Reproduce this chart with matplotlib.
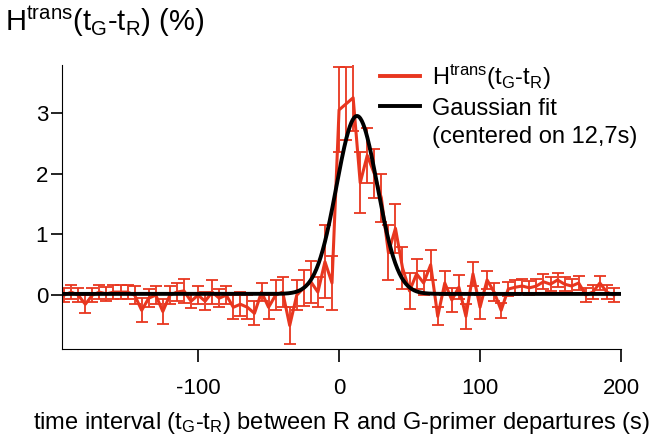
import numpy as np
import matplotlib
matplotlib.use("Agg")
from matplotlib import pyplot as plt
from matplotlib.lines import Line2D

plt.rcParams['font.family'] = ['Liberation Sans', 'DejaVu Sans']
plt.rcParams['mathtext.fontset'] = 'custom'
plt.rcParams['mathtext.rm'] = 'Liberation Sans'
plt.rcParams['mathtext.it'] = 'Liberation Sans:italic'
plt.rcParams['axes.unicode_minus'] = False

# histogram of time intervals, 5 s bins
t = np.arange(-195, 200, 5)
h = [0.0, 0.05, 0.0, -0.15, 0.0, 0.05, 0.02, 0.05, 0.05, 0.05,
     0.0, -0.25, -0.05, 0.0, -0.27, 0.0, 0.05, 0.07, -0.1, 0.0,
     -0.1, 0.05, -0.05, 0.0, -0.2, -0.15, -0.2, -0.3, 0.05, -0.2,
     0.0, 0.05, -0.5, 0.0, 0.12, 0.22, 0.05, 0.55, 0.2, 3.05,
     3.15, 3.25, 1.85, 2.3, 2.0, 1.6, 0.7, 1.1, 0.45, 0.07,
     0.35, 0.2, 0.5, -0.35, 0.2, -0.08, 0.13, -0.35, 0.35, -0.2,
     0.25, 0.05, -0.25, 0.1, 0.13, 0.15, 0.12, 0.15, 0.22, 0.18,
     0.25, 0.18, 0.15, 0.2, 0.0, 0.05, 0.2, 0.05, 0.0]
h_err = [0.12, 0.12, 0.12, 0.15, 0.12, 0.12, 0.12, 0.12, 0.12, 0.12,
         0.15, 0.2, 0.15, 0.15, 0.2, 0.15, 0.15, 0.2, 0.12, 0.15,
         0.15, 0.2, 0.15, 0.15, 0.2, 0.2, 0.2, 0.2, 0.15, 0.2,
         0.25, 0.25, 0.3, 0.25, 0.3, 0.35, 0.25, 0.6, 0.45, 0.7,
         0.6, 0.55, 0.5, 0.45, 0.4, 0.4, 0.45, 0.4, 0.35, 0.3,
         0.25, 0.2, 0.25, 0.15, 0.2, 0.2, 0.2, 0.2, 0.2, 0.2,
         0.15, 0.15, 0.12, 0.12, 0.12, 0.12, 0.12, 0.12, 0.12, 0.12,
         0.12, 0.12, 0.12, 0.12, 0.12, 0.12, 0.12, 0.12, 0.12]

# gaussian fit parameters
fit_center = 12.7
fit_amp = 2.93
fit_sigma = 14.5
fit_offset = 0.02

red = '#e8361f'

fig = plt.figure(figsize=(6.53, 4.42), dpi=100)
ax = fig.add_axes([0.095, 0.21, 0.856, 0.643])

ax.errorbar(t, h, yerr=h_err, color=red, lw=2.2, elinewidth=1.3,
            capsize=4, capthick=1.3, zorder=2)
tf = np.linspace(-196, 200, 800)
gf = fit_offset + fit_amp * np.exp(-(tf - fit_center) ** 2 / (2 * fit_sigma ** 2))
ax.plot(tf, gf, color='black', lw=2.8, zorder=3)

ax.set_xlim(-196.5, 200)
ax.set_ylim(-0.89, 3.79)
ax.set_xticks([-100, 0, 100, 200])
ax.set_yticks([0, 1, 2, 3])
ax.spines['top'].set_visible(False)
ax.spines['right'].set_visible(False)
ax.tick_params(direction='out', length=9, width=1.2, labelsize=16, pad=12)
ax.tick_params(axis='y', length=8, pad=2)
ax.set_xlabel(r'time interval (t$_\mathrm{G}$-t$_\mathrm{R}$) between R and G-primer departures (s)',
              fontsize=17, labelpad=8)

fig.text(0.008, 0.952, r'H$^\mathrm{trans}$(t$_\mathrm{G}$-t$_\mathrm{R}$) (%)',
         fontsize=21, va='center', ha='left')

handles = [Line2D([], [], color=red, lw=2.8),
           Line2D([], [], color='black', lw=2.8),
           Line2D([], [], color='none')]
labels = [r'H$^\mathrm{trans}$(t$_\mathrm{G}$-t$_\mathrm{R}$)', 'Gaussian fit',
          '(centered on 12,7s)']
ax.legend(handles, labels, loc='upper left', bbox_to_anchor=(0.569, 1.009),
          frameon=False, fontsize=17, handlelength=1.7, handletextpad=0.5,
          labelspacing=0.25, borderaxespad=0, borderpad=0)

fig.savefig('out.png', dpi=100)
